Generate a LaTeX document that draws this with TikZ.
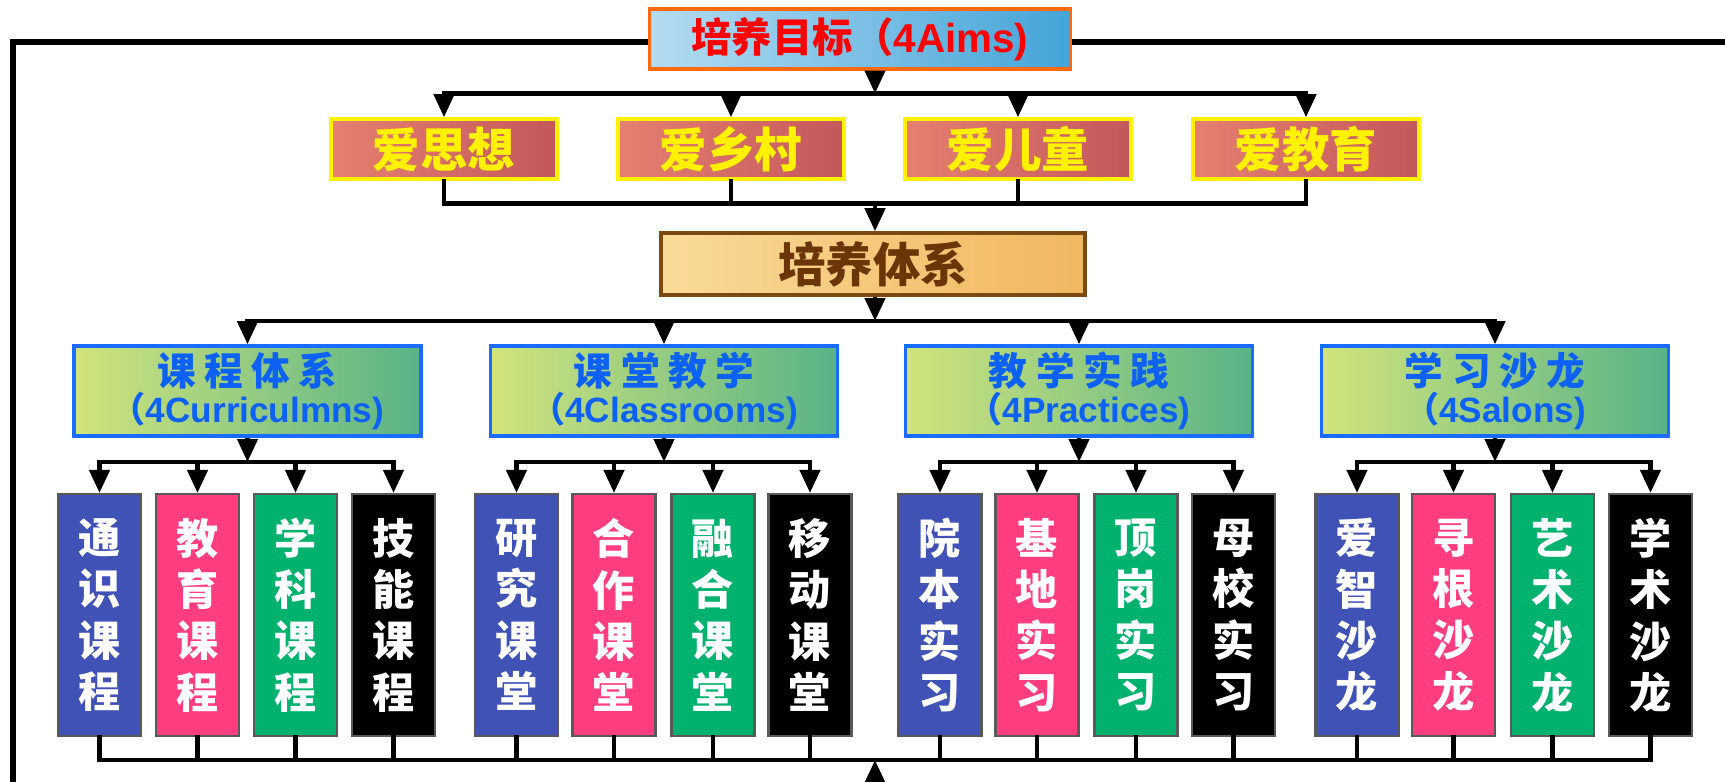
\documentclass[tikz,border=0pt]{standalone}
\usepackage{fontspec}
\setmainfont{Liberation Sans}
\newfontfamily\cjk{Noto Sans CJK SC}
\newfontfamily\cjksp{Noto Sans CJK SC}[LetterSpace=22]
\usetikzlibrary{arrows.meta}
\definecolor{aimline}{HTML}{FF6A10}
\definecolor{aimleft}{HTML}{B4DCF2}
\definecolor{aimright}{HTML}{44A4D8}
\definecolor{loveleft}{HTML}{E6806F}
\definecolor{loveright}{HTML}{C4575B}
\definecolor{sysleft}{HTML}{F9DB98}
\definecolor{sysright}{HTML}{F1B760}
\definecolor{sysline}{HTML}{7A4A12}
\definecolor{systext}{HTML}{6A3608}
\definecolor{partleft}{HTML}{D2E47C}
\definecolor{partright}{HTML}{58B388}
\definecolor{partline}{HTML}{1A6CFF}
\definecolor{parttext}{HTML}{0D62F5}
\definecolor{itemblue}{HTML}{4052B5}
\definecolor{itempink}{HTML}{FF3D7F}
\definecolor{itemgreen}{HTML}{00B26E}
\definecolor{itemline}{HTML}{595959}
\tikzstyle{every edge} = [draw,line width=1.25pt,-{Triangle[length=2.3mm,width=2mm]}]
\tikzstyle{conn} = [line width=1.25pt,line cap=rect]
\tikzstyle{frame} = [line width=1.7pt,line cap=rect]
\tikzstyle{aim} = [draw=aimline,line width=1pt,left color=aimleft,right color=aimright,minimum width=4.21cm,minimum height=0.6cm,inner sep=0pt,text=red,font=\bfseries\fontsize{11.5}{13}\selectfont]
\tikzstyle{love} = [draw=yellow,line width=1pt,left color=loveleft,right color=loveright,minimum width=2.26cm,minimum height=0.6cm,inner sep=0pt,text=yellow,font=\cjk\bfseries\fontsize{13.5}{15}\selectfont]
\tikzstyle{sys} = [draw=sysline,line width=1pt,left color=sysleft,right color=sysright,minimum width=4.24cm,minimum height=0.62cm,inner sep=0pt,text=systext,font=\cjk\bfseries\fontsize{13.5}{15}\selectfont]
\tikzstyle{part} = [draw=partline,line width=1pt,left color=partleft,right color=partright,minimum width=3.47cm,minimum height=0.9cm,inner sep=0pt,align=center,text=parttext,font=\bfseries\fontsize{10}{10.5}\selectfont]
\tikzstyle{item} = [draw=itemline,line width=0.6pt,fill=#1,minimum width=0.83cm,minimum height=2.42cm,inner sep=0pt,align=center,text=white,font=\cjk\bfseries\fontsize{12}{14.6}\selectfont]

\begin{document}
\begin{tikzpicture}

\useasboundingbox (0,0) rectangle (17.25,-7.82);

\coordinate (corner) at (0.13,-0.42);
\coordinate (topend) at (17.25,-0.42);
\coordinate (foot) at (0.13,-7.82);
\draw[frame] (topend) -- (corner) -- (foot);

\node[aim] (top) at (8.60,-0.39) {{\cjk 培养目标（}4Aims)};

\node[love] (love1) at (4.44,-1.49) {爱思想};
\node[love] (love2) at (7.31,-1.49) {爱乡村};
\node[love] (love3) at (10.18,-1.49) {爱儿童};
\node[love] (love4) at (13.06,-1.49) {爱教育};

\node[sys] (sys) at (8.73,-2.64) {培养体系};

\node[part] (part1) at (2.475,-3.91) {{\cjksp\fontsize{11}{10.5}\selectfont 课程体系}\\{\cjk （}4Curriculmns)};
\node[part] (part2) at (6.64,-3.91) {{\cjksp\fontsize{11}{10.5}\selectfont 课堂教学}\\{\cjk （}4Classrooms)};
\node[part] (part3) at (10.79,-3.91) {{\cjksp\fontsize{11}{10.5}\selectfont 教学实践}\\{\cjk （}4Practices)};
\node[part] (part4) at (14.95,-3.91) {{\cjksp\fontsize{11}{10.5}\selectfont 学习沙龙}\\{\cjk （}4Salons)};

\node[item=itemblue] (i11) at (0.995,-6.15) {通\\识\\课\\程};
\node[item=itempink] (i12) at (1.975,-6.15) {教\\育\\课\\程};
\node[item=itemgreen] (i13) at (2.955,-6.15) {学\\科\\课\\程};
\node[item=black] (i14) at (3.935,-6.15) {技\\能\\课\\程};
\node[item=itemblue] (i21) at (5.165,-6.15) {研\\究\\课\\堂};
\node[item=itempink] (i22) at (6.14,-6.15) {合\\作\\课\\堂};
\node[item=itemgreen] (i23) at (7.13,-6.15) {融\\合\\课\\堂};
\node[item=black] (i24) at (8.10,-6.15) {移\\动\\课\\堂};
\node[item=itemblue] (i31) at (9.40,-6.15) {院\\本\\实\\习};
\node[item=itempink] (i32) at (10.37,-6.15) {基\\地\\实\\习};
\node[item=itemgreen] (i33) at (11.36,-6.15) {顶\\岗\\实\\习};
\node[item=black] (i34) at (12.335,-6.15) {母\\校\\实\\习};
\node[item=itemblue] (i41) at (13.57,-6.15) {爱\\智\\沙\\龙};
\node[item=itempink] (i42) at (14.535,-6.15) {寻\\根\\沙\\龙};
\node[item=itemgreen] (i43) at (15.525,-6.15) {艺\\术\\沙\\龙};
\node[item=black] (i44) at (16.505,-6.15) {学\\术\\沙\\龙};

\coordinate (bus1) at (8.75,-0.935);
\coordinate (bus2) at (8.75,-2.035);
\coordinate (bus3) at (8.75,-3.21);
\coordinate (bus4) at (8.75,-4.62);
\coordinate (bus5) at (8.75,-7.60);
\coordinate (base) at (8.75,-7.82);

% aims -> four loves
\draw (top.south -| bus1) edge (bus1);
\draw[conn] (love1.north |- bus1) -- (love4.north |- bus1);
\draw (love1.north |- bus1) edge (love1) (love2.north |- bus1) edge (love2) (love3.north |- bus1) edge (love3) (love4.north |- bus1) edge (love4);

% loves -> system
\draw[conn] (love1) |- (bus2) -| (love4);
\draw[conn] (love2) -- (love2 |- bus2) (love3) -- (love3 |- bus2);
\draw (bus2) edge (sys.north -| bus2);

% system -> four parts
\draw (sys.south -| bus3) edge (bus3);
\draw[conn] (part1.north |- bus3) -- (part4.north |- bus3);
\draw (part1.north |- bus3) edge (part1) (part2.north |- bus3) edge (part2) (part3.north |- bus3) edge (part3) (part4.north |- bus3) edge (part4);

% parts -> items
\draw (part1) edge (part1 |- bus4) (part2) edge (part2 |- bus4) (part3) edge (part3 |- bus4) (part4) edge (part4 |- bus4);
\draw[conn] (i11 |- bus4) -- (i14 |- bus4) (i21 |- bus4) -- (i24 |- bus4) (i31 |- bus4) -- (i34 |- bus4) (i41 |- bus4) -- (i44 |- bus4);
\draw (i11 |- bus4) edge (i11) (i12 |- bus4) edge (i12) (i13 |- bus4) edge (i13) (i14 |- bus4) edge (i14);
\draw (i21 |- bus4) edge (i21) (i22 |- bus4) edge (i22) (i23 |- bus4) edge (i23) (i24 |- bus4) edge (i24);
\draw (i31 |- bus4) edge (i31) (i32 |- bus4) edge (i32) (i33 |- bus4) edge (i33) (i34 |- bus4) edge (i34);
\draw (i41 |- bus4) edge (i41) (i42 |- bus4) edge (i42) (i43 |- bus4) edge (i43) (i44 |- bus4) edge (i44);

% feedback
\draw[conn] (i11) |- (bus5) -| (i44);
\draw[conn] (i12) -- (i12 |- bus5) (i13) -- (i13 |- bus5) (i14) -- (i14 |- bus5) (i21) -- (i21 |- bus5) (i22) -- (i22 |- bus5) (i23) -- (i23 |- bus5) (i24) -- (i24 |- bus5);
\draw[conn] (i31) -- (i31 |- bus5) (i32) -- (i32 |- bus5) (i33) -- (i33 |- bus5) (i34) -- (i34 |- bus5) (i41) -- (i41 |- bus5) (i42) -- (i42 |- bus5) (i43) -- (i43 |- bus5);
\draw (base) edge (bus5);

\end{tikzpicture}
\end{document}
